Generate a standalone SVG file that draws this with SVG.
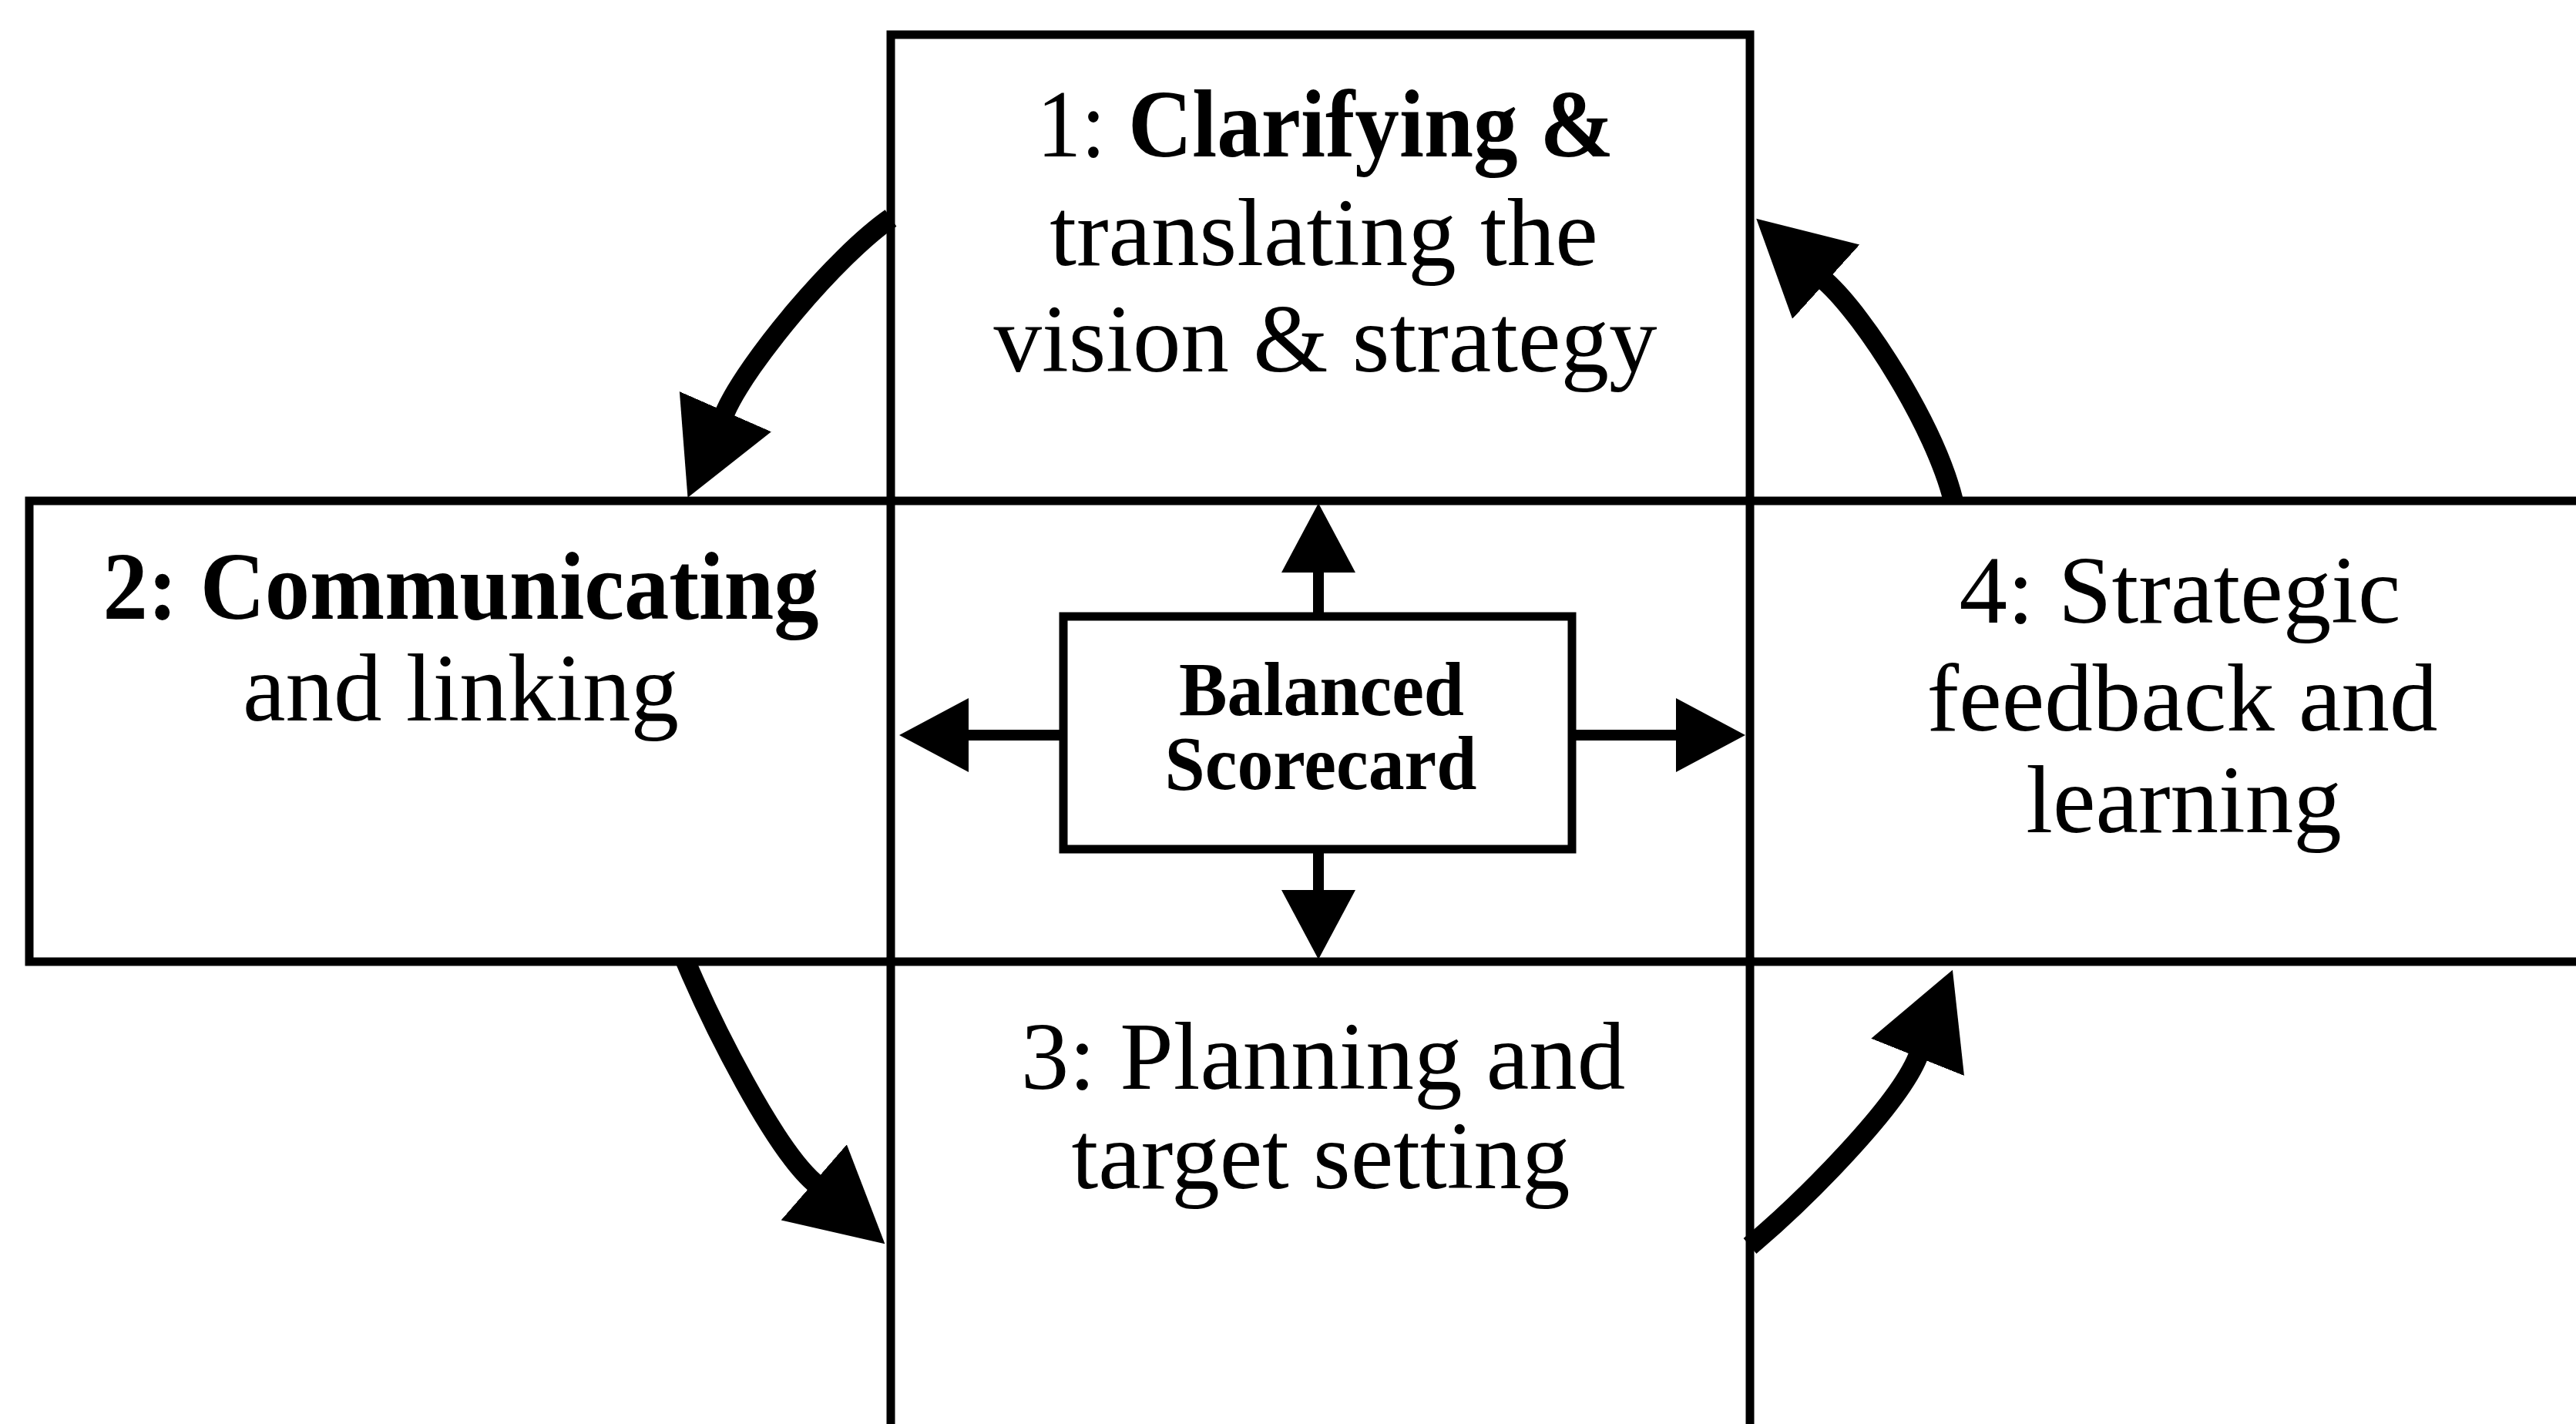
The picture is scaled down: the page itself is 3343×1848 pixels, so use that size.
<svg xmlns="http://www.w3.org/2000/svg" width="3343" height="1848" viewBox="0 0 3343 1848">
  <defs>
    <style>
      .box { fill: #fff; stroke: #000; stroke-width: 11; }
      .core { fill: #fff; stroke: #000; stroke-width: 11; }
      .lbl { font-family: "Liberation Serif", "Times New Roman", serif; font-size: 125px; fill: #000; text-anchor: middle; }
      .core-lbl { font-family: "Liberation Serif", "Times New Roman", serif; font-size: 100px; font-weight: bold; fill: #000; text-anchor: middle; }
      .b { font-weight: bold; }
      .cycle { fill: none; stroke: #000; stroke-width: 26; }
      .ray { fill: none; stroke: #000; stroke-width: 14; }
      .head { fill: #000; stroke: none; }
    </style>
    <!-- heads start where the shaft path ends and follow its tangent -->
    <marker id="bigHead" markerUnits="userSpaceOnUse" viewBox="0 -70 130 140" markerWidth="130" markerHeight="140" refX="1" refY="0" orient="auto">
      <path class="head" d="M0,-65 L122,0 L0,65 Z"/>
    </marker>
    <marker id="smallHead" markerUnits="userSpaceOnUse" viewBox="0 -50 95 100" markerWidth="95" markerHeight="100" refX="1" refY="0" orient="auto">
      <path class="head" d="M0,-48 L90,0 L0,48 Z"/>
    </marker>
  </defs>

  <rect width="3343" height="1848" fill="#fff"/>

  <!-- four process stages around the scorecard -->
  <g id="clarify">
    <rect class="box" x="1156" y="45" width="1115" height="605"/>
    <text class="lbl" x="1720" y="203" textLength="749" lengthAdjust="spacingAndGlyphs">1: <tspan class="b">Clarifying &amp;</tspan></text>
    <text class="lbl" x="1718" y="344">translating the</text>
    <text class="lbl" x="1720" y="482">vision &amp; strategy</text>
  </g>

  <g id="communicate">
    <rect class="box" x="38" y="650" width="1118" height="598"/>
    <text class="lbl b" x="598" y="803" textLength="929" lengthAdjust="spacingAndGlyphs">2: Communicating</text>
    <text class="lbl" x="598" y="935">and linking</text>
  </g>

  <g id="feedback">
    <rect class="box" x="2271" y="650" width="1110" height="598"/>
    <text class="lbl" x="2829" y="808">4: Strategic</text>
    <text class="lbl" x="2832" y="948">feedback and</text>
    <text class="lbl" x="2834" y="1080">learning</text>
  </g>

  <g id="planning">
    <rect class="box" x="1156" y="1248" width="1115" height="640"/>
    <text class="lbl" x="1717" y="1413">3: Planning and</text>
    <text class="lbl" x="1714" y="1542">target setting</text>
  </g>

  <g id="scorecard">
    <rect class="core" x="1380" y="800" width="660" height="302"/>
    <text class="core-lbl" x="1715" y="928" textLength="370" lengthAdjust="spacingAndGlyphs">Balanced</text>
    <text class="core-lbl" x="1714" y="1024" textLength="405" lengthAdjust="spacingAndGlyphs">Scorecard</text>
  </g>

  <g id="connectors">
    <!-- scorecard out to each stage -->
    <path class="ray" d="M1711,800 V742" marker-end="url(#smallHead)"/>
    <path class="ray" d="M1711,1102 V1156" marker-end="url(#smallHead)"/>
    <path class="ray" d="M1380,954 H1256" marker-end="url(#smallHead)"/>
    <path class="ray" d="M2040,954 H2176" marker-end="url(#smallHead)"/>
    <!-- cycle between the stages -->
    <path class="cycle" d="M1156,283 C1084,333 969,471 941,535" marker-end="url(#bigHead)"/>
    <path class="cycle" d="M890,1248 C925,1331 1004,1489 1057,1535" marker-end="url(#bigHead)"/>
    <path class="cycle" d="M2271,1617 C2341,1558 2463,1436 2489,1371" marker-end="url(#bigHead)"/>
    <path class="cycle" d="M2535,650 C2511,553 2421,412 2369,365" marker-end="url(#bigHead)"/>
  </g>
</svg>
